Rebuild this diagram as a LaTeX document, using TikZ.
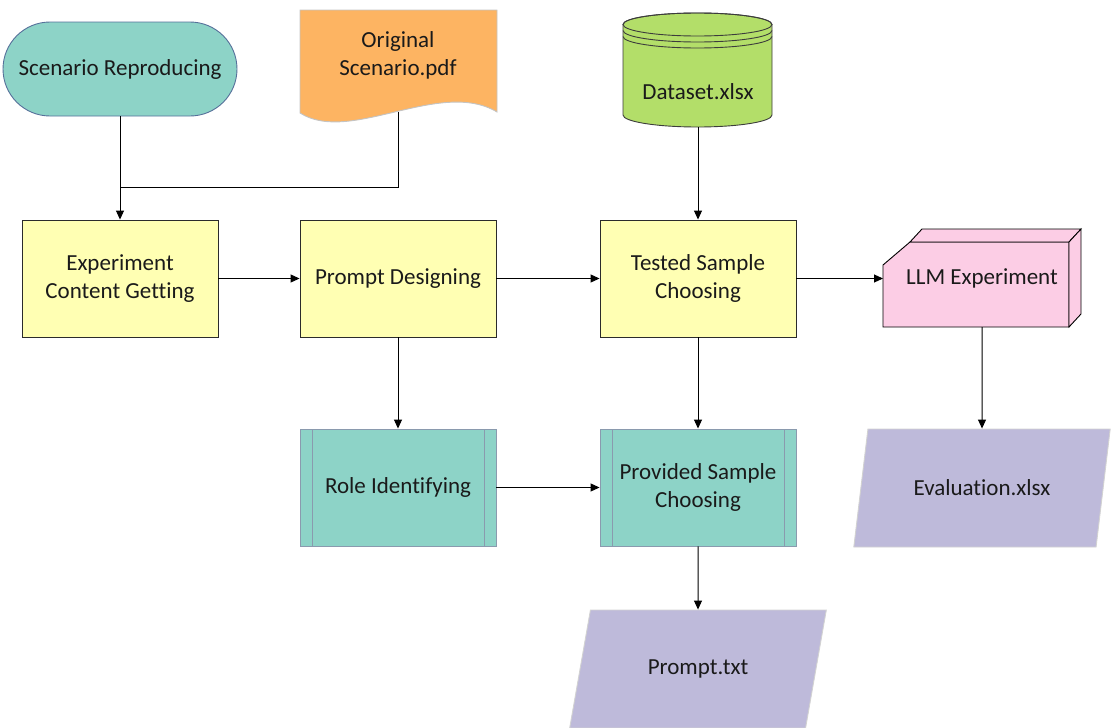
\documentclass[tikz,border=0pt]{standalone}
\usepackage{fontspec}
\setmainfont{Carlito}[Ligatures={NoCommon,NoContextual}, Contextuals=NoAlternate]
\usetikzlibrary{arrows.meta,shapes.geometric,shapes.misc}

\definecolor{cTeal}{HTML}{8DD3C7}
\definecolor{cOrange}{HTML}{FDB462}
\definecolor{cGreen}{HTML}{B3DE69}
\definecolor{cYellow}{HTML}{FFFFB3}
\definecolor{cPink}{HTML}{FCCDE5}
\definecolor{cLav}{HTML}{BEBADA}
\definecolor{txt}{HTML}{1A1A1A}
\definecolor{boxline}{HTML}{2B2B2B}
\definecolor{subline}{HTML}{8A9AAE}
\definecolor{stadline}{HTML}{56709A}
\definecolor{docline}{HTML}{C4C4C4}
\definecolor{ioline}{HTML}{D2D2D2}
\definecolor{cylline}{HTML}{3C3C3C}

\begin{document}
\begin{tikzpicture}[x=1pt,y=1pt,
  every node/.style={font=\fontsize{23}{28}\selectfont, text=txt, align=center},
  arr/.style={-{Triangle[length=9pt,width=8pt]}, line width=1pt, draw=black},
  lnk/.style={line width=1pt, draw=black},
  procbox/.style={rectangle, draw=boxline, fill=cYellow, line width=0.9pt,
    minimum width=196pt, minimum height=117pt, inner sep=0pt},
  subbox/.style={rectangle, draw=subline, fill=cTeal, line width=0.9pt,
    minimum width=196pt, minimum height=117pt, inner sep=0pt,
    path picture={
      \draw[subline, line width=0.9pt]
        ([xshift=12pt]path picture bounding box.north west) --
        ([xshift=12pt]path picture bounding box.south west)
        ([xshift=-12pt]path picture bounding box.north east) --
        ([xshift=-12pt]path picture bounding box.south east);}},
  iobox/.style={trapezium, trapezium left angle=62.3, trapezium right angle=117.7,
    trapezium stretches=true, fill=cLav, draw=ioline, line width=0.9pt,
    minimum width=257pt, minimum height=118pt, inner sep=0pt},
  startbox/.style={rounded rectangle, draw=stadline, fill=cTeal, line width=0.9pt,
    minimum width=234pt, minimum height=94pt, inner sep=0pt},
]
\useasboundingbox (0,0) rectangle (1114,-728);

% start terminal
\node[startbox] (scen) at (120,-69) {Scenario Reproducing};

% document input
\path[fill=cOrange, draw=docline, line width=0.9pt]
  (300,-10) -- (497,-10) -- (497,-112)
  .. controls (440,-78) and (350,-145) .. (300,-113) -- cycle;
\node (doc) at (398,-55) {Original\\Scenario.pdf};
\coordinate (docout) at (398,-112);
\coordinate (join) at (120,-187);

% database cylinder
\path[fill=cGreen, draw=cylline, line width=0.9pt]
  (623,-24.5) -- (623,-115)
  arc[start angle=180, end angle=360, x radius=74.5pt, y radius=12pt]
  -- (772,-24.5)
  arc[start angle=0, end angle=180, x radius=74.5pt, y radius=11.5pt] -- cycle;
\draw[cylline, line width=0.9pt] (697.5,-24.5) ellipse[x radius=74.5pt, y radius=11.5pt];
\draw[cylline, line width=0.9pt] (623,-30.5)
  arc[start angle=180, end angle=360, x radius=74.5pt, y radius=11.5pt];
\draw[cylline, line width=0.9pt] (623,-36.5)
  arc[start angle=180, end angle=360, x radius=74.5pt, y radius=11.5pt];
\node (data) at (698,-92) {Dataset.xlsx};
\coordinate (dataout) at (698,-127);

% process steps
\node[procbox] (ecg) at (120,-278.5) {Experiment\\Content Getting};
\node[procbox] (pd)  at (398,-278.5) {Prompt Designing};
\node[procbox] (tsc) at (698,-278.5) {Tested Sample\\Choosing};

% sub-processes
\node[subbox] (ri)  at (398,-487.5) {Role Identifying};
\node[subbox] (psc) at (698,-487.5) {Provided Sample\\Choosing};

% experiment block
\begin{scope}[line width=0.9pt]
  \path[fill=cPink, draw=black]
    (883,-265) -- (910,-242) -- (1069,-242) -- (1069,-327) -- (883,-327) -- cycle;
  \path[fill=cPink, draw=black]
    (910,-242) -- (922,-229) -- (1081,-229) -- (1069,-242) -- cycle;
  \path[fill=cPink, draw=black]
    (1069,-242) -- (1081,-229) -- (1081,-314) -- (1069,-327) -- cycle;
\end{scope}
\node[minimum width=198pt, minimum height=97pt, inner sep=0pt, outer sep=0pt]
  (llm) at (982,-278.5) {LLM Experiment};

% outputs
\node[iobox] (eval)   at (982,-488) {Evaluation.xlsx};
\node[iobox] (prompt) at (698,-669) {Prompt.txt};

% connectors
\draw[arr] (scen.south) -- (ecg.north);
\draw[lnk] (docout) |- (join);
\draw[arr] (dataout) -- (tsc.north);
\draw[arr] (ecg.east) -- (pd.west);
\draw[arr] (pd.east) -- (tsc.west);
\draw[arr] (tsc.east) -- (llm.west);
\draw[arr] (pd.south) -- (ri.north);
\draw[arr] (tsc.south) -- (psc.north);
\draw[arr] (ri.east) -- (psc.west);
\draw[arr] (psc.south) -- (prompt.north);
\draw[arr] (llm.south) -- (eval.north);
\end{tikzpicture}
\end{document}
